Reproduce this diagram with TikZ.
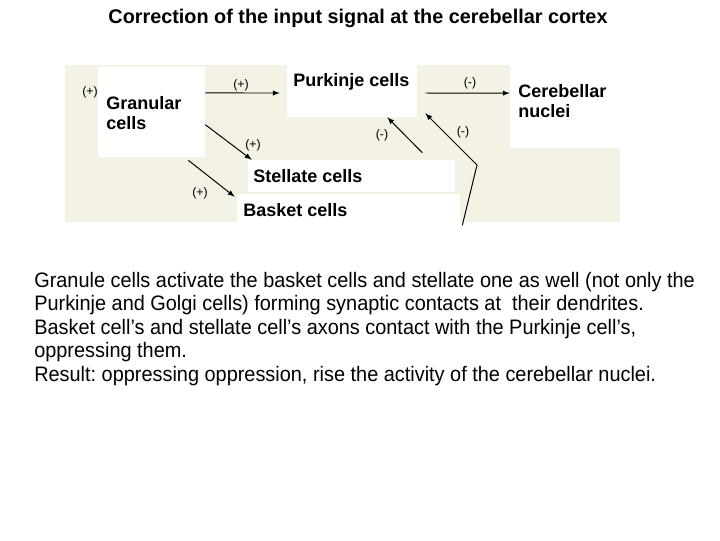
\documentclass[tikz,border=0pt]{standalone}
\usepackage{fontspec}
\setmainfont{Liberation Sans}
\newfontfamily\narrowfont[FakeStretch=0.95]{Liberation Sans}
\usetikzlibrary{arrows, positioning, calc}
\definecolor{paper}{RGB}{244,242,228}
\frenchspacing

\begin{document}
\begin{tikzpicture}[x=0.025cm, y=-0.025cm]
    \tikzstyle{panel} = [rectangle, fill=white, draw=none, inner sep=0pt]
    \tikzstyle{cell} = [font=\fontsize{12.8}{14.2}\selectfont\bfseries,
        inner sep=0pt, align=left]
    \tikzstyle{sign} = [font=\fontsize{8.8}{10}\selectfont, inner sep=0pt]
    \tikzstyle{line} = [draw, -latex, line width=0.7pt]

    \useasboundingbox (0,0) rectangle (720,540);
    \node [font=\fontsize{14.1}{15}\selectfont\bfseries, anchor=base] (title)
        at (358,23) {Correction of the input signal at the cerebellar cortex};

    % background and white panels
    \fill [paper] (65,65) rectangle (620,222);
    \node [panel, minimum width=2.675cm, minimum height=2.25cm] (granular) at (151.5,112) {};
    \node [panel, minimum width=3.25cm, minimum height=1.3cm] (purkinje) at (352,91) {};
    \node [panel, minimum width=2.75cm, minimum height=2.075cm] (nuclei) at (565,106.5) {};
    \node [panel, minimum width=5.175cm, minimum height=0.8cm] (stellate) at (351.5,176) {};
    \node [panel, minimum width=5.575cm, minimum height=0.7cm] (basket) at (348.5,208) {};

    % cell names
    \node [cell, anchor=north west] (granulartext) at (106,96) {Granular\\cells};
    \node [cell, anchor=base west] (purkinjetext) at (293,86) {Purkinje cells};
    \node [cell, anchor=north west] (nucleitext) at (518,84) {Cerebellar\\nuclei};
    \node [cell, anchor=base west] (stellatetext) at (253,182) {Stellate cells};
    \node [cell, anchor=base west] (baskettext) at (243,216) {Basket cells};

    % connections
    \path [line] ($(granular.north east)!0.29!(granular.south east)$) -- ($(purkinje.west)+(-7,2)$);
    \path [line] ($(purkinje.east)+(8,2)$) -- ($(nuclei.north west)!0.34!(nuclei.south west)$);
    \path [line] ($(granular.north east)!0.64!(granular.south east)$) -- ($(stellate.north west)+(4,0)$);
    \path [line] ($(granular.south east)+(-17,3)$) -- ($(basket.north west)+(-2,3)$);
    \path [line] ($(stellate.north east)+(-33,-7)$) -- ($(purkinje.south east)+(-30,0)$);
    \coordinate (bend) at (477,165);
    \path [line] ($(basket.south east)+(2,3)$) -- (bend) -- ($(purkinje.south east)+(8,-4)$);

    % signs
    \node [sign] (s0) at (90,92) {(+)};
    \node [sign] (s1) at (241,85) {(+)};
    \node [sign] (s2) at (470,83) {(-)};
    \node [sign] (s3) at (253,145) {(+)};
    \node [sign] (s4) at (200,193) {(+)};
    \node [sign] (s5) at (382,135) {(-)};
    \node [sign] (s6) at (463,132) {(-)};

    % explanation
    \node [font=\narrowfont\fontsize{14.9}{16.7}\selectfont, anchor=north west,
        inner sep=0pt, align=left] (notes) at (34,272) {Granule cells activate the basket cells and stellate one as well (not only the\\
        Purkinje and Golgi cells) forming synaptic contacts at\ \ their dendrites.\\
        Basket cell’s and stellate cell’s axons contact with the Purkinje cell’s,\\
        oppressing them.\\
        Result: oppressing oppression, rise the activity of the cerebellar nuclei.};
\end{tikzpicture}
\end{document}
